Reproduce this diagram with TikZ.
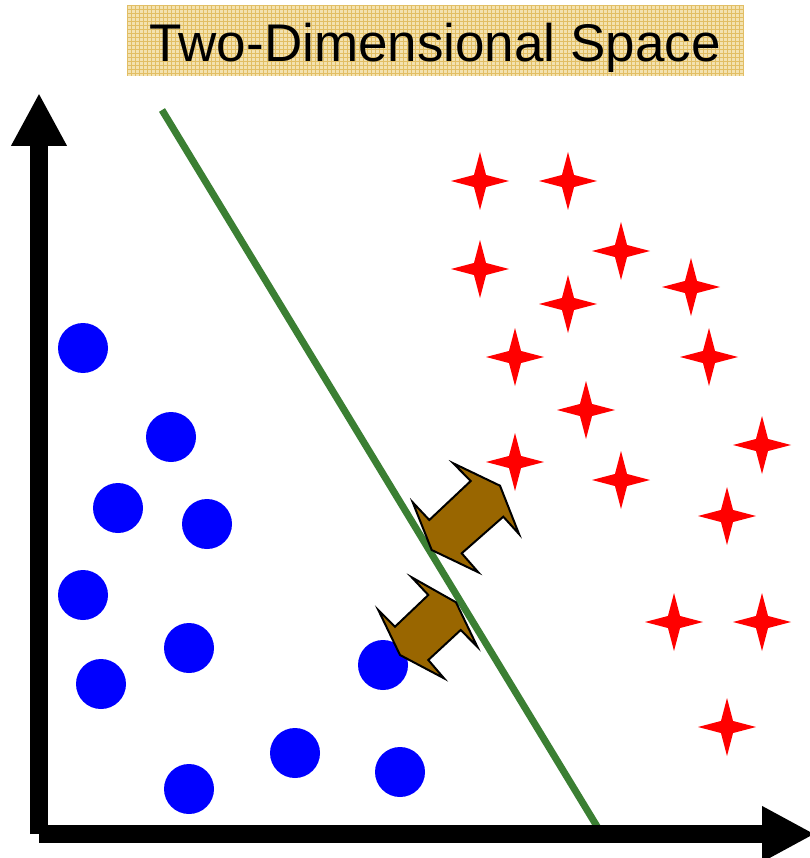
\documentclass[tikz,border=0pt]{standalone}
\usepackage{fontspec}
\setmainfont{Liberation Sans}
\usetikzlibrary{arrows.meta,shapes.geometric}
\definecolor{dotblue}{HTML}{0000FF}
\definecolor{starred}{HTML}{FF0000}
\definecolor{sepgreen}{HTML}{3B7F33}
\definecolor{gapbrown}{HTML}{996600}
\definecolor{titlefill}{HTML}{F3E2B0}
\definecolor{titlegrid}{HTML}{E2BE64}
\tikzset{
  dot/.style={circle,fill=dotblue,minimum size=50pt,inner sep=0pt},
  spark/.style={star,star points=4,star point ratio=3.4,fill=starred,
                minimum size=58pt,inner sep=0pt},
  axisline/.style={line width=18pt,-{Triangle[length=53pt,width=52pt]}},
  marginarrow/.style={fill=gapbrown,draw=black,line width=2pt,line join=miter},
}

\begin{document}
\begin{tikzpicture}[x=1pt,y=-1pt]
  \useasboundingbox (0,0) rectangle (809,858);
  % title banner
  \node[fill=titlefill,minimum width=617pt,minimum height=71pt,inner sep=0pt]
        (titlebox) at (435.5,40.5) {};
  \begin{scope}
    \clip (titlebox.south west) rectangle (titlebox.north east);
    \foreach \gx in {127,131,...,747}
      \draw[titlegrid,line width=0.8pt] (\gx,5) -- (\gx,76);
    \foreach \gy in {5,9,...,77}
      \draw[titlegrid,line width=0.8pt] (127,\gy) -- (744,\gy);
  \end{scope}
  \node[anchor=base,font=\fontsize{53}{60}\selectfont] (title) at (435,62)
     {Two-Dimensional Space};

  % separating line
  \coordinate (sepA) at (162,110);
  \coordinate (sepB) at (598,828);
  \draw[sepgreen,line width=7pt] (sepA) -- (sepB);

  % class one
  \foreach \px/\py [count=\i] in {83/348,171/437,118/508,207/524,83/595,189/648,
                                  101/684,383/665,295/753,189/789,400/772}
    \node[dot] (dot\i) at (\px,\py) {};
  % class two
  \foreach \px/\py [count=\i] in {480/181,568/181,480/269,621/251,568/304,691/287,
                                  515/357,709/357,586/410,515/462,621/480,762/445,
                                  727/516,674/622,762/622,727/727}
    \node[spark] (star\i) at (\px,\py) {};

  % margin arrows
  \draw[marginarrow] (470.7,481) -- (453.3,463.3) -- (500,485.7) -- (519,534)
     -- (503.3,516.7) -- (461.7,553.3) -- (478.3,572.3) -- (431.7,550)
     -- (412.7,502.3) -- (429.3,520) -- cycle;
  \draw[marginarrow] (428.3,595) -- (411.7,577.3) -- (456,602.3) -- (477.3,646.7)
     -- (460.7,630) -- (428.3,660) -- (444,678.3) -- (400,655)
     -- (378.3,610) -- (395,626.7) -- cycle;

  % axes
  \coordinate (origin) at (39,834);
  \coordinate (ytip) at (39,93);
  \coordinate (xtip) at (815,834);
  \draw[axisline] (origin) -- (ytip);
  \draw[axisline] (origin) -- (xtip);
\end{tikzpicture}
\end{document}
